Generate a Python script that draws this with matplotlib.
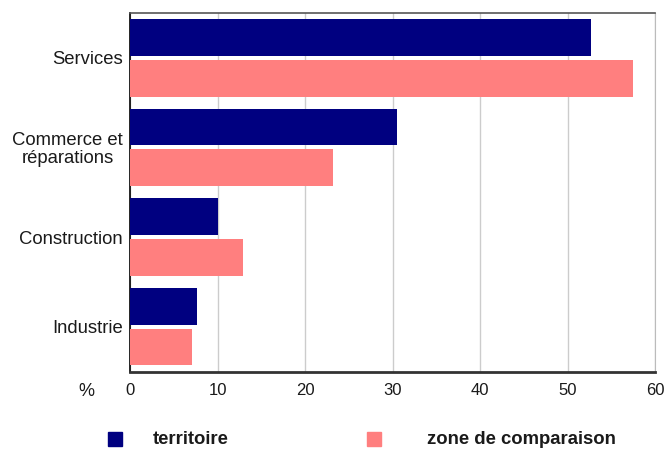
import matplotlib.pyplot as plt
import numpy as np

plt.rcParams['font.family'] = ['Liberation Sans', 'DejaVu Sans']

categories = ['Industrie', 'Construction', 'Commerce et\nréparations', 'Services']
territoire = [7.6, 10.0, 30.5, 52.7]
comparaison = [7.1, 12.9, 23.2, 57.5]
xticks = [0, 10, 20, 30, 40, 50, 60]

navy = '#000080'
pink = '#ff7f7f'

fig = plt.figure(figsize=(6.65, 4.5), dpi=100)
ax = fig.add_axes([130/665, 1 - 371.5/450, 525/665, (371.5 - 13)/450])

y = np.arange(len(categories))
h = 0.41
off = 0.2275
ax.barh(y + off, territoire, height=h, color=navy, zorder=3)
ax.barh(y - off, comparaison, height=h, color=pink, zorder=3)

ax.set_xlim(0, 60)
ax.set_ylim(-0.5, len(categories) - 0.5)
ax.set_xticks(xticks)
ax.set_xticklabels([str(t) for t in xticks], fontsize=12, color='#1a1a1a')
ax.set_yticks(y)
ax.set_yticklabels(categories, fontsize=13.3, color='#1a1a1a', linespacing=1.05)
for lab in ax.get_yticklabels():
    lab.set_multialignment('center')
ax.tick_params(axis='both', length=0)
ax.tick_params(axis='x', pad=8)
ax.tick_params(axis='y', pad=5)
ax.xaxis.grid(True, color='#cccccc', linewidth=1, zorder=0)

ax.spines['left'].set_color('black')
ax.spines['left'].set_linewidth(1.2)
ax.spines['bottom'].set_color('#333333')
ax.spines['bottom'].set_linewidth(2)
ax.spines['top'].set_color('#555555')
ax.spines['top'].set_linewidth(1.2)
ax.spines['right'].set_color('#bbbbbb')

fig.text(86/665, 1 - 392/450, '%', fontsize=13, color='#1a1a1a', ha='center', va='center')

# legend
fig.patches.append(plt.Rectangle((108/665, 1 - 446/450), 14/665, 14/450,
                                 transform=fig.transFigure, color=navy))
fig.text(153/665, 1 - 440/450, 'territoire', fontsize=13.3, fontweight='bold',
         color='#1a1a1a', va='center')
fig.patches.append(plt.Rectangle((367/665, 1 - 446/450), 14/665, 14/450,
                                 transform=fig.transFigure, color=pink))
fig.text(427/665, 1 - 440/450, 'zone de comparaison', fontsize=13.3, fontweight='bold',
         color='#1a1a1a', va='center')

fig.savefig('out.png', dpi=100)
